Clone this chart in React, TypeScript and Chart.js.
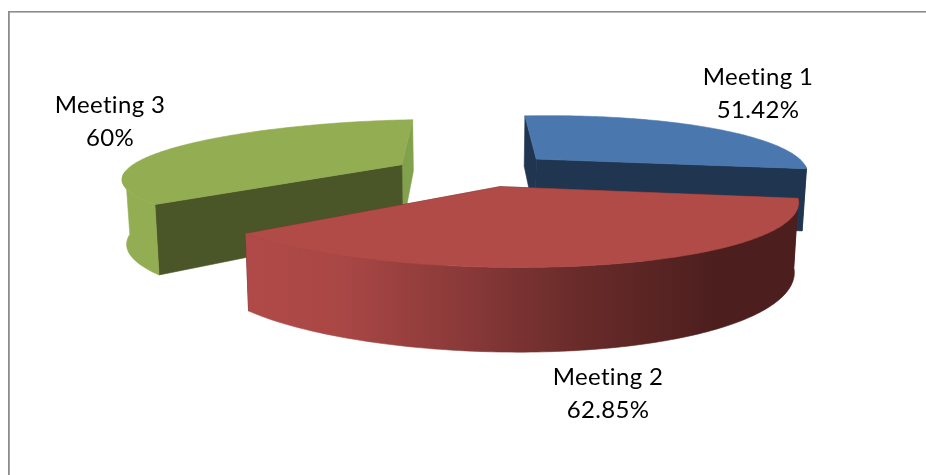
import React, { useEffect, useRef } from "react";
import { Chart, registerables } from "chart.js";

Chart.register(...registerables);

const categories = ["Meeting 1", "Meeting 2", "Meeting 3"];
const percentages = [51.42, 62.85, 60];
const topColours = ["#4a78ae", "#b14b48", "#93ad52"];
const startWallColours = ["#203550", "#4c1e1e", "#4a5628"];
const endWallColours = ["#203550", "#4c1e1e", "#82a14c"];
const labelCentres = [[758, 85], [608, 385], [110, 113]];

const H = -106, G = 1353, G2 = 1660, F = 1346, CX = 455, UC = 0.082, ZC = 4.9;
const deg = Math.PI / 180;
const AZ = -6 * deg, BX = -5 * deg, BZ = -8 * deg;

function makeProjector(el: any) {
  const a0 = el.startAngle + Math.PI / 2;
  const a1 = el.endAngle + Math.PI / 2;
  const mid = (a0 + a1) / 2;
  const e = el.options.offset / el.outerRadius;
  const Uo = UC + 1.05 * e * Math.sin(mid + BX);
  const Zo = ZC + e * Math.cos(mid + BZ);
  const at = (theta: number, r: number, low: boolean): [number, number] => {
    const ax = (-3.25 + 3.75 * Math.cos(theta)) * deg;
    const U = Uo + r * Math.sin(theta + ax);
    const Z = Zo + r * Math.cos(theta + AZ);
    const x = CX + (F * U) / Z;
    if (!low) return [x, H + G / Z];
    return [470 + (x - 470) * 0.987, H + G2 / Z];
  };
  return { a0, a1, mid, Zo, at };
}

function poly(ctx: CanvasRenderingContext2D, pts: [number, number][], fill: any) {
  ctx.beginPath();
  pts.forEach((p, i) => (i ? ctx.lineTo(p[0], p[1]) : ctx.moveTo(p[0], p[1])));
  ctx.closePath();
  ctx.fillStyle = fill;
  ctx.strokeStyle = fill;
  ctx.lineWidth = 0.6;
  ctx.fill();
  ctx.stroke();
}

const pie3d = {
  id: "pie3d",
  beforeDatasetsDraw(chart: any) {
    const ctx: CanvasRenderingContext2D = chart.ctx;
    ctx.save();
    ctx.fillStyle = "#8c8c8c";
    ctx.fillRect(8, 11, 918, 1.6);
    ctx.fillRect(8, 11, 1.8, 464);

    const arcs = chart.getDatasetMeta(0).data;
    const order = arcs
      .map((el: any, i: number) => ({ i, p: makeProjector(el) }))
      .sort((a: any, b: any) => b.p.Zo - a.p.Zo);

    for (const { i, p } of order) {
      const rim: number[] = [];
      const steps = Math.ceil((p.a1 - p.a0) / deg);
      for (let s = 0; s <= steps; s++) rim.push(p.a0 + ((p.a1 - p.a0) * s) / steps);

      // radial walls
      poly(ctx, [p.at(p.a1, 1, false), p.at(p.a1, 0, false), p.at(p.a1, 0, true), p.at(p.a1, 1, true)], endWallColours[i]);
      poly(ctx, [p.at(p.a0, 1, false), p.at(p.a0, 0, false), p.at(p.a0, 0, true), p.at(p.a0, 1, true)], startWallColours[i]);

      // outer wall: only the part of the rim that faces the viewer, up to the silhouette
      const front = rim.filter((t) => Math.cos(t + AZ) < -0.12);
      if (front.length > 1) {
        const pts = [
          ...front.map((t) => p.at(t, 1, false)),
          ...front.slice().reverse().map((t) => p.at(t, 1, true)),
        ] as [number, number][];
        let fill: any = startWallColours[i];
        if (i === 2) fill = topColours[2];
        if (i === 1) {
          const g = ctx.createLinearGradient(247, 0, 720, 0);
          g.addColorStop(0, "#b04a48");
          g.addColorStop(0.2, "#a94745");
          g.addColorStop(0.45, "#8a3a39");
          g.addColorStop(0.7, "#692b2a");
          g.addColorStop(1, "#4c1e1e");
          fill = g;
        }
        poly(ctx, pts, fill);
      }

      // top face
      poly(ctx, [p.at(p.a0, 0, false), ...rim.map((t) => p.at(t, 1, false))] as [number, number][], topColours[i]);
    }

    // data labels
    ctx.fillStyle = "#000";
    ctx.font = "24px Lato";
    (ctx as any).letterSpacing = "0.35px";
    ctx.textAlign = "center";
    ctx.textBaseline = "alphabetic";
    categories.forEach((name, i) => {
      const [x, y] = labelCentres[i];
      ctx.fillText(name, x, y);
      ctx.fillText(`${percentages[i]}%`, x, y + 33);
    });
    ctx.restore();
    return false;
  },
};

export default function App() {
  const ref = useRef<HTMLCanvasElement>(null);
  useEffect(() => {
    document.body.style.margin = "0";
    document.body.style.background = "#fff";
    const chart = new Chart(ref.current!, {
      type: "pie",
      data: {
        labels: categories,
        datasets: [{ data: percentages, backgroundColor: topColours, offset: 60, borderWidth: 0 }],
      },
      options: {
        responsive: false,
        devicePixelRatio: 1,
        animation: false,
        events: [],
        plugins: { legend: { display: false }, tooltip: { enabled: false } },
      },
      plugins: [pie3d],
    } as any);
    return () => chart.destroy();
  }, []);
  return <canvas ref={ref} width={926} height={475} style={{ display: "block", width: 926, height: 475 }} />;
}
